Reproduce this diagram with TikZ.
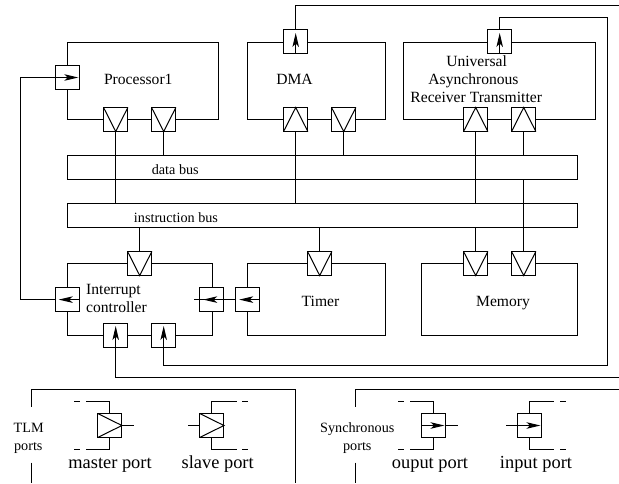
\documentclass[tikz,border=0pt]{standalone}
\usepackage{fontspec}
\setmainfont{Liberation Serif}
\usetikzlibrary{arrows.meta}
\tikzset{
  blk/.style={draw,rectangle,inner sep=0pt,outer sep=0pt,line width=1pt},
  portbox/.style={draw,rectangle,fill=white,inner sep=0pt,outer sep=0pt,minimum width=24.3pt,minimum height=24pt,line width=1pt},
  wire/.style={line width=1pt},
  arw/.style={line width=1pt,-{Stealth[length=14pt,width=6.5pt,inset=3.5pt]}},
  lab/.style={inner sep=0pt,anchor=base,font=\fontsize{15.6pt}{18pt}\selectfont},
  small/.style={inner sep=0pt,anchor=base,font=\fontsize{14.2pt}{17pt}\selectfont},
  big/.style={inner sep=0pt,anchor=base,font=\fontsize{18.4pt}{22pt}\selectfont}
}
\newcommand{\dntri}[1]{\draw[wire] (#1.north west) -- (#1.south) -- (#1.north east);}
\newcommand{\uptri}[1]{\draw[wire] (#1.south west) -- (#1.north) -- (#1.south east);}
\begin{document}
\begin{tikzpicture}[x=1pt,y=-1pt]
\useasboundingbox (0,0) rectangle (619,483);
% blocks
\node[blk,minimum width=150.5pt,minimum height=77.5pt] (proc) at (142.75,80.75) {};
\node[blk,minimum width=138pt,minimum height=77.5pt] (dma) at (316.5,80.75) {};
\node[blk,minimum width=192.2pt,minimum height=77.5pt] (uart) at (499.6,80.75) {};
\node[blk,minimum width=510.2pt,minimum height=24pt] (dbus) at (322.6,167.5) {};
\node[blk,minimum width=510.2pt,minimum height=24pt] (ibus) at (322.6,215.5) {};
\node[blk,minimum width=144.5pt,minimum height=71.8pt] (irq) at (139.75,299.6) {};
\node[blk,minimum width=138pt,minimum height=71.8pt] (timer) at (316.5,299.6) {};
\node[blk,minimum width=156.2pt,minimum height=71.8pt] (mem) at (499.6,299.6) {};
% ports
\node[portbox] (pL) at (67.7,77.5) {};
\node[portbox] (pA) at (115.7,119.5) {};
\node[portbox] (pB) at (163.7,119.5) {};
\node[portbox] (dT) at (295.7,41.5) {};
\node[portbox] (dA) at (295.7,119.5) {};
\node[portbox] (dB) at (343.7,119.5) {};
\node[portbox] (uT) at (499.7,41.5) {};
\node[portbox] (uA) at (475.7,119.5) {};
\node[portbox] (uB) at (523.7,119.5) {};
\node[portbox] (iT) at (139.7,263.5) {};
\node[portbox] (iL) at (67.7,299.6) {};
\node[portbox] (iR) at (211.7,299.6) {};
\node[portbox] (iA) at (115.7,335.5) {};
\node[portbox] (iB) at (163.7,335.5) {};
\node[portbox] (tL) at (247.7,299.6) {};
\node[portbox] (tT) at (319.7,263.5) {};
\node[portbox] (mA) at (475.7,263.5) {};
\node[portbox] (mB) at (523.7,263.5) {};
% TLM triangles
\dntri{pA}\dntri{pB}\uptri{dA}\dntri{dB}\uptri{uA}\uptri{uB}
\dntri{iT}\dntri{tT}\dntri{mA}\dntri{mB}
% bus connectors
\draw[wire] (pA.south) -- (pA.south |- ibus.north);
\draw[wire] (pB.south) -- (pB.south |- dbus.north);
\draw[wire] (dA.south) -- (dA.south |- ibus.north);
\draw[wire] (dB.south) -- (dB.south |- dbus.north);
\draw[wire] (uA.south) -- (uA.south |- ibus.north);
\draw[wire] (uB.south) -- (uB.south |- dbus.north);
\draw[wire] (iT.north) -- (iT.north |- ibus.south);
\draw[wire] (tT.north) -- (tT.north |- ibus.south);
\draw[wire] (mA.north) -- (mA.north |- ibus.south);
\draw[wire] (mB.north) -- (mB.north |- dbus.south);
% signal wires
\coordinate (tipL) at (78.3,77.5);
\coordinate (cnrA) at (20,299.6);
\coordinate (cnrB) at (20,77.5);
\draw[arw] (iL.west) -- (cnrA) -- (cnrB) -- (tipL);
\draw[arw] (iL.east) -- ([xshift=-9pt]iL.center);
\coordinate (stubR) at (194,299.6);
\draw[wire] (stubR) -- (tL.west);
\draw[arw] (tL.west) -- ([xshift=-8.5pt]iR.center);
\draw[arw] (tL.east) -- ([xshift=-8.5pt]tL.center);
\coordinate (cnrD) at (295.7,5.5);
\coordinate (edgeT) at (619,5.5);
\draw[wire] (dT.north) -- (cnrD) -- (edgeT);
\draw[arw] (dT.south) -- ([yshift=8.5pt]dT.center);
\coordinate (cnrU1) at (499.7,17.5);
\coordinate (cnrU2) at (607.7,17.5);
\coordinate (cnrU3) at (607.7,365.6);
\coordinate (cnrU4) at (163.7,365.6);
\draw[wire] (uT.north) -- (cnrU1) -- (cnrU2) -- (cnrU3) -- (cnrU4) -- (iB.south);
\draw[arw] (uT.south) -- ([yshift=8.5pt]uT.center);
\draw[arw] (iB.south) -- ([yshift=9.5pt]iB.center);
\coordinate (cnrE) at (115.7,377.5);
\coordinate (edgeB) at (619,377.5);
\draw[wire] (edgeB) -- (cnrE) -- (iA.south);
\draw[arw] (iA.south) -- ([yshift=9.5pt]iA.center);
% labels
\node[lab] (tProc) at (138.3,84) {Processor1};
\node[lab] (tDma) at (294.5,84) {DMA};
\node[lab] (tU1) at (476.6,66) {Universal};
\node[lab] (tU2) at (473.5,84) {Asynchronous};
\node[lab] (tU3) at (476.2,102) {Receiver Transmitter};
\node[small] (tD) at (175.3,174) {data bus};
\node[small] (tI) at (176,222) {instruction bus};
\node[lab,anchor=base west] (tI1) at (86,294.3) {Interrupt};
\node[lab,anchor=base west] (tI2) at (86,312) {controller};
\node[lab] (tT) at (320.5,306) {Timer};
\node[lab] (tM) at (503,306) {Memory};
% legend frames
\coordinate (fa) at (31.7,406.7);
\coordinate (fb) at (31.7,389.7);
\coordinate (fc) at (295.7,389.7);
\coordinate (fd) at (295.7,483);
\coordinate (fe) at (31.7,462.7);
\coordinate (ff) at (31.7,483);
\draw[wire] (fa) -- (fb) -- (fc) -- (fd);
\draw[wire] (fe) -- (ff);
\coordinate (ga) at (355.7,406.7);
\coordinate (gb) at (355.7,389.7);
\coordinate (gc) at (619,389.7);
\coordinate (ge) at (355.7,462.7);
\coordinate (gf) at (355.7,483);
\draw[wire] (ga) -- (gb) -- (gc);
\draw[wire] (ge) -- (gf);
\node[small] (tTlm) at (28.7,432) {TLM};
\node[small] (tP1) at (28.3,450) {ports};
\node[small] (tSy) at (357.3,432) {Synchronous};
\node[small] (tP2) at (357.3,450) {ports};
% legend: master port
\node[portbox] (lm) at (109.8,425.5) {};
\coordinate (lmE) at (133.7,425.5);
\coordinate (lmTa) at (109.8,401.7);
\coordinate (lmTb) at (86,401.7);
\coordinate (lmBa) at (109.8,449.7);
\coordinate (lmBb) at (86,449.7);
\draw[wire] (lm.north west) -- (lm.east) -- (lm.south west);
\draw[wire] (lm.east) -- (lmE);
\draw[wire] (lm.north) -- (lmTa) -- (lmTb);
\draw[wire] (lm.south) -- (lmBa) -- (lmBb);
\draw[wire] (74,401.7) -- (80,401.7);
\draw[wire] (74,449.7) -- (80,449.7);
\node[big] (tMp) at (110,468) {master port};
% legend: slave port
\node[portbox] (ls) at (211.8,425.5) {};
\coordinate (lsW) at (188,425.5);
\coordinate (lsTa) at (211.8,401.7);
\coordinate (lsTb) at (237,401.7);
\coordinate (lsBa) at (211.8,449.7);
\coordinate (lsBb) at (237,449.7);
\draw[wire] (ls.north west) -- (ls.east) -- (ls.south west);
\draw[wire] (lsW) -- (ls.west);
\draw[wire] (ls.north) -- (lsTa) -- (lsTb);
\draw[wire] (ls.south) -- (lsBa) -- (lsBb);
\draw[wire] (242,401.7) -- (248,401.7);
\draw[wire] (242,449.7) -- (248,449.7);
\node[big] (tSp) at (217.7,468) {slave port};
% legend: output port
\node[portbox] (lo) at (433.8,425.5) {};
\coordinate (loE) at (457.7,425.5);
\coordinate (loTa) at (433.8,401.7);
\coordinate (loTb) at (410,401.7);
\coordinate (loBa) at (433.8,449.7);
\coordinate (loBb) at (410,449.7);
\coordinate (loTip) at (444.5,425.5);
\draw[arw] (lo.west) -- (loTip);
\draw[wire] (lo.east) -- (loE);
\draw[wire] (lo.north) -- (loTa) -- (loTb);
\draw[wire] (lo.south) -- (loBa) -- (loBb);
\draw[wire] (398,401.7) -- (404,401.7);
\draw[wire] (398,449.7) -- (404,449.7);
\node[big] (tOp) at (430,468) {ouput port};
% legend: input port
\node[portbox] (li) at (529.8,425.5) {};
\coordinate (liW) at (506,425.5);
\coordinate (liTa) at (529.8,401.7);
\coordinate (liTb) at (553.7,401.7);
\coordinate (liBa) at (529.8,449.7);
\coordinate (liBb) at (553.7,449.7);
\coordinate (liTip) at (540.5,425.5);
\draw[arw] (liW) -- (liTip);
\draw[wire] (li.north) -- (liTa) -- (liTb);
\draw[wire] (li.south) -- (liBa) -- (liBb);
\draw[wire] (560,401.7) -- (566,401.7);
\draw[wire] (560,449.7) -- (566,449.7);
\node[big] (tIp) at (536,468) {input port};
\end{tikzpicture}
\end{document}
